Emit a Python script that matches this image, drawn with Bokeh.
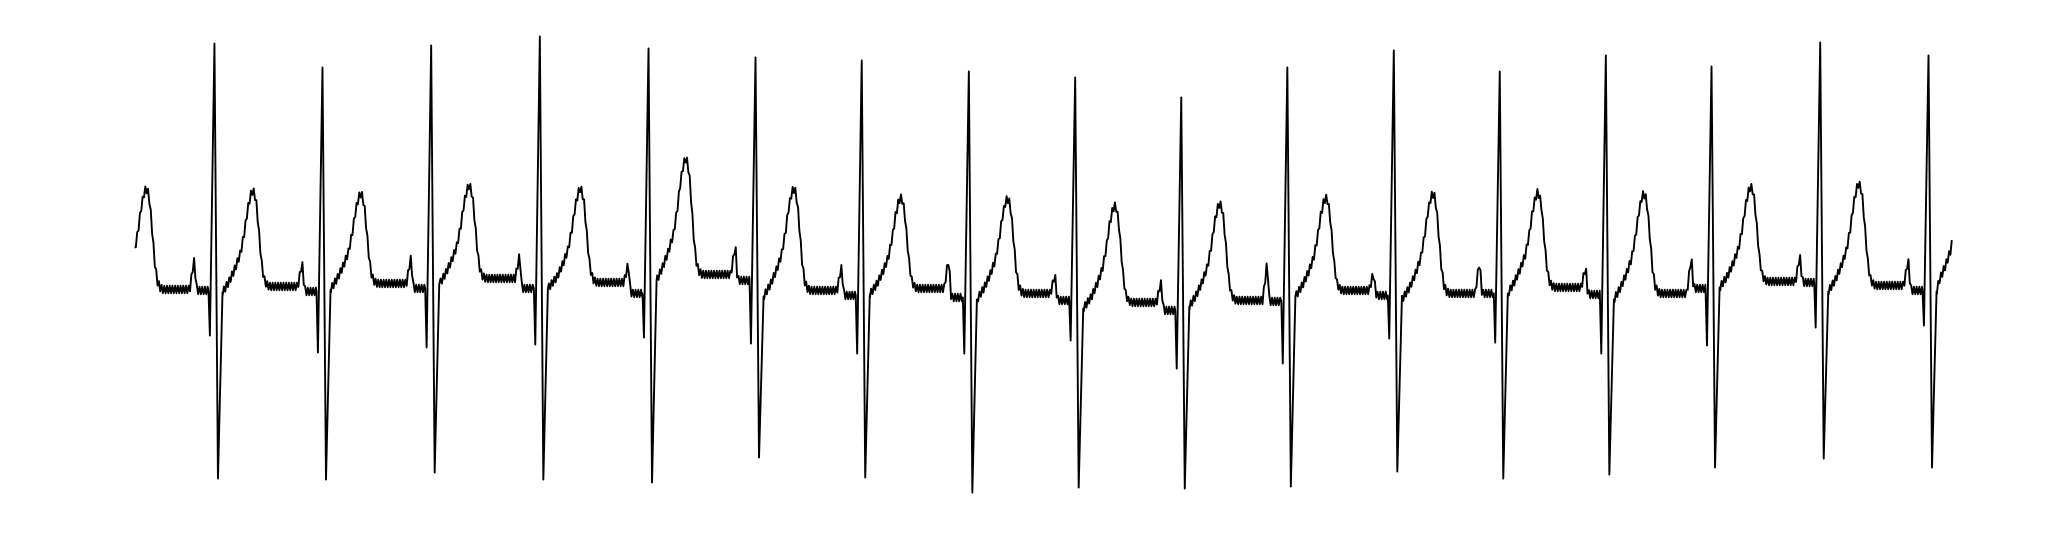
import numpy as np
from bokeh.plotting import figure
from bokeh.models import Range1d
from bokeh.embed import file_html
from bokeh.resources import INLINE

# ---- values (time in s, amplitude in mV) ----
# R peaks
r_time = [0.615, 1.446, 2.282, 3.118, 3.954, 4.777, 5.594, 6.418, 7.236,
          8.052, 8.868, 9.687, 10.502, 11.318, 12.131, 12.967, 13.800]
r_amp = [2.47, 2.23, 2.45, 2.54, 2.42, 2.33, 2.30, 2.19, 2.13,
         1.93, 2.23, 2.40, 2.19, 2.35, 2.24, 2.48, 2.35]
s_amp = [-1.88, -1.89, -1.82, -1.89, -1.92, -1.67, -1.87, -2.02, -1.97,
         -1.98, -1.96, -1.81, -1.88, -1.84, -1.77, -1.68, -1.77]
q_amp = [-0.45, -0.62, -0.57, -0.54, -0.47, -0.53, -0.63, -0.63, -0.50,
         -0.78, -0.73, -0.48, -0.52, -0.63, -0.55, -0.37, -0.35]
# T waves (one before the first R, one after each R)
t_time = [0.088, 0.908, 1.738, 2.572, 3.427, 4.238, 5.069, 5.892, 6.713,
          7.538, 8.346, 9.162, 9.985, 10.792, 11.608, 12.431, 13.262, 14.062]
t_amp = [1.02, 1.00, 0.97, 1.05, 1.02, 1.32, 1.02, 0.93, 0.92,
         0.85, 0.87, 0.93, 0.97, 0.98, 0.97, 1.04, 1.07, 1.05]
# baseline after each T wave
base_st = [0.01, 0.04, 0.07, 0.12, 0.08, 0.16, 0.00, 0.02, -0.03,
           -0.12, -0.10, 0.00, -0.03, 0.03, -0.03, 0.09, 0.05, 0.05]
# P waves (before each R) and the baseline between P and QRS
p_amp = [0.30, 0.27, 0.32, 0.33, 0.25, 0.43, 0.23, 0.30, 0.15,
         0.08, 0.24, 0.17, 0.27, 0.22, 0.31, 0.34, 0.30]
base_pr = [0.00, -0.01, 0.02, 0.02, -0.03, 0.10, -0.05, -0.07, -0.10,
           -0.20, -0.11, -0.05, -0.03, -0.04, 0.02, 0.08, 0.00]
# T-wave outline: (offset from T peak in s, fraction of T height)
t_shape_dt = [-0.177, -0.131, -0.092, -0.062, -0.038, -0.015, 0.0,
              0.015, 0.031, 0.050, 0.069, 0.088, 0.108, 0.131]
t_shape_f = [0.06, 0.20, 0.35, 0.57, 0.80, 0.95, 1.0,
             0.97, 0.85, 0.55, 0.25, 0.08, 0.02, 0.0]
# P-wave outline offsets (s) and the PR interval
p_shape_dt = [-0.031, -0.015, 0.0, 0.008, 0.019, 0.031]
pr_interval = 0.159
qrs_dt = [-0.046, -0.035, 0.0, 0.027, 0.062]
hum_mv = 0.037     # mains hum visible on the trace
fs = 96.0          # sampling rate
t_end = 13.987

# ---- assemble key points ----
kt, kv = [], []
for i in range(len(t_time)):
    b = base_st[i]
    h = t_amp[i] - b
    for dt, f in zip(t_shape_dt, t_shape_f):
        kt.append(t_time[i] + dt)
        kv.append(b + f * h)
    if i < len(r_time):
        r = r_time[i]
        pp = r - pr_interval
        pa = p_amp[i]
        bp = base_pr[i]
        vals = [b, (b + pa) / 2, pa, pa - 0.04, bp + 0.03, bp]
        for dt, v in zip(p_shape_dt, vals):
            kt.append(pp + dt)
            kv.append(v)

qt, qv = [], []
for k, r in enumerate(r_time):
    vals = [base_pr[k], q_amp[k], r_amp[k], s_amp[k], base_st[k + 1] - 0.06]
    for dt, v in zip(qrs_dt, vals):
        qt.append(r + dt)
        qv.append(v)

allt = np.array(kt + qt)
allv = np.array(kv + qv)
order = np.argsort(allt)
allt, allv = allt[order], allv[order]

grid = np.arange(0.0, t_end, 1.0 / fs)
clean = np.interp(grid, allt, allv)
hum = hum_mv * np.where(np.arange(len(grid)) % 2 == 0, 1.0, -1.0)
sig = clean + hum

mask = np.ones(len(grid), dtype=bool)
for r in r_time:
    mask &= ~((grid > r + qrs_dt[0]) & (grid < r + qrs_dt[-1]))

xt = np.concatenate([grid[mask], np.array(qt)])
yv = np.concatenate([sig[mask], np.array(qv)])
o = np.argsort(xt, kind="stable")
xt, yv = xt[o], yv[o]
keep = xt <= t_end
xt, yv = xt[keep], yv[keep]

# ---- plot ----
px_per_s = 130.0
x0 = -134.0 / px_per_s
x1 = x0 + 2030.0 / px_per_s
p = figure(width=2030, height=522, output_backend="svg", toolbar_location=None,
           x_range=Range1d(x0, x1), y_range=Range1d(-2.32, 2.90),
           min_border=0, min_border_left=0, min_border_right=0,
           min_border_top=0, min_border_bottom=0)
p.line(xt, yv, line_color="black", line_width=1.9, line_join="round")
p.axis.visible = False
p.grid.visible = False
p.outline_line_color = None
p.background_fill_color = "white"
p.border_fill_color = "white"

open("out.html", "w").write(file_html(p, INLINE))
